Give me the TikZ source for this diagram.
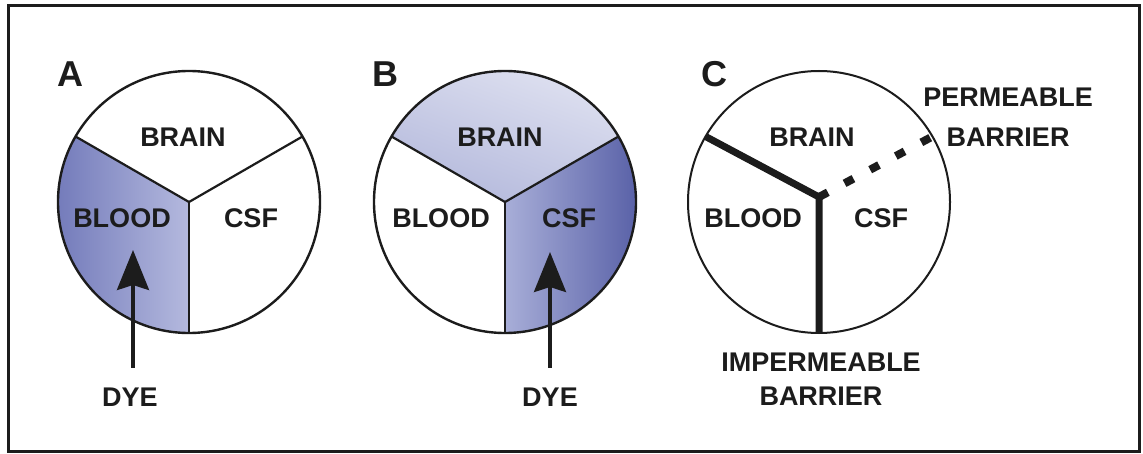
\documentclass[tikz,border=0pt]{standalone}
\usepackage{fontspec}
\setmainfont{Liberation Sans}
\usetikzlibrary{arrows.meta}
\definecolor{ink}{HTML}{1C1C1C}
\definecolor{bdark}{HTML}{6B73B6}
\definecolor{blight}{HTML}{B4B9DE}
\definecolor{cdark}{HTML}{5A62A8}
\definecolor{clight}{HTML}{A8AED8}
\definecolor{rtop}{HTML}{E2E4F2}
\definecolor{rbot}{HTML}{B4B9DC}
\begin{document}
\begin{tikzpicture}[x=1pt,y=1pt,
  lbl/.style={font=\fontsize{27}{30}\selectfont\bfseries, text=ink, inner sep=0pt, outer sep=0pt},
  letter/.style={font=\fontsize{36}{40}\selectfont\bfseries, text=ink, inner sep=0pt},
  disc/.style={circle, draw=ink, line width=2.4pt, minimum size=262pt, inner sep=0pt, outer sep=0pt},
  divider/.style={draw=ink, line width=2.2pt},
  wall/.style={draw=ink, line width=7pt},
  pwall/.style={draw=ink, line width=8pt, dash pattern=on 10pt off 19pt},
  dyearrow/.style={draw=ink, line width=3.5pt, -{Stealth[length=40pt,width=32pt,inset=5pt]}}
]
\useasboundingbox (0,0) rectangle (1143,453);
\fill[white] (0,0) rectangle (1143,453);
\draw[ink, line width=3pt] (8.5,2) rectangle (1139,447);

% centres
\coordinate (oA) at (189,251);
\coordinate (oB) at (505,251);
\coordinate (oC) at (819,251);

% shaded sectors
\shade[left color=bdark, right color=blight]
  (oA) -- ++(150:131) arc[start angle=150, end angle=270, radius=131] -- cycle;
\shade[left color=clight, right color=cdark]
  (oB) -- ++(270:131) arc[start angle=270, end angle=390, radius=131] -- cycle;
\shade[top color=rtop, bottom color=rbot, shading angle=-20]
  (oB) -- ++(30:131) arc[start angle=30, end angle=150, radius=131] -- cycle;

% discs
\node[disc] (cA) at (oA) {};
\node[disc] (cB) at (oB) {};
\node[disc, line width=2pt] (cC) at (oC) {};

% dividers A and B
\draw[divider] (cA.center) -- (cA.150);
\draw[divider] (cA.center) -- (cA.30);
\draw[divider] (cA.center) -- (cA.270);
\draw[divider] (cB.center) -- (cB.150);
\draw[divider] (cB.center) -- (cB.30);
\draw[divider] (cB.center) -- (cB.270);

% barriers C
\coordinate (jC) at ([shift={(0,5)}]cC.center);
\draw[wall] (cC.150) -- (jC) -- (cC.270);
\draw[pwall] (jC) -- (cC.30);

% panel letters
\node[letter] (LA) at (70,379) {A};
\node[letter] (LB) at (385,379) {B};
\node[letter] (LC) at (714,379) {C};

% region labels
\node[lbl] (brainA) at (183,316) {BRAIN};
\node[lbl] (bloodA) at (122,235) {BLOOD};
\node[lbl] (csfA) at (251,235) {CSF};
\node[lbl] (brainB) at (500,316) {BRAIN};
\node[lbl] (bloodB) at (441,235) {BLOOD};
\node[lbl] (csfB) at (569,235) {CSF};
\node[lbl] (brainC) at (812,316) {BRAIN};
\node[lbl] (bloodC) at (753,235) {BLOOD};
\node[lbl] (csfC) at (881,235) {CSF};

% dye
\node[lbl] (dyeA) at (130,56) {DYE};
\node[lbl] (dyeB) at (550,56) {DYE};
\coordinate (tipA) at (133,203);
\coordinate (tipB) at (550,201);
\draw[dyearrow, shorten <=20pt] (dyeA.north -| tipA) -- (tipA);
\draw[dyearrow, shorten <=20pt] (dyeB.north -| tipB) -- (tipB);

% barrier labels
\node[lbl, align=center, font=\fontsize{27}{40}\selectfont\bfseries] (perm) at (1008,336) {PERMEABLE\\BARRIER};
\node[lbl, align=center, font=\fontsize{27}{34.5}\selectfont\bfseries] (imperm) at (821,74) {IMPERMEABLE\\BARRIER};
\end{tikzpicture}
\end{document}
